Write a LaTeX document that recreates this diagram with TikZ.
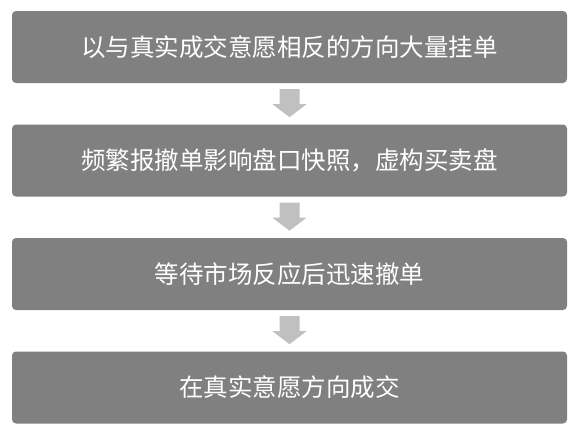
\documentclass[tikz,border=0pt]{standalone}
\usepackage{fontspec}
\setmainfont{Noto Sans CJK SC}
\usetikzlibrary{positioning}
\definecolor{boxgray}{RGB}{128,128,128}
\definecolor{arrowgray}{RGB}{192,192,192}

\begin{document}
\begin{tikzpicture}[x=1pt,y=1pt,font=\fontsize{24.5pt}{28pt}\selectfont,
    stepbox/.style={rectangle,rounded corners=4pt,fill=boxgray,text=white,
      minimum width=555pt,minimum height=72pt,inner sep=0pt}]
  \useasboundingbox (0,0) rectangle (577,-437);
  \node[stepbox] (s1) at (289.5,-47) {以与真实成交意愿相反的方向大量挂单};
  \node[stepbox] (s2) at (289.5,-160.5) {频繁报撤单影响盘口快照，虚构买卖盘};
  \node[stepbox] (s3) at (289.5,-274) {等待市场反应后迅速撤单};
  \node[stepbox] (s4) at (289.5,-387.5) {在真实意愿方向成交};

  % block arrows between the steps
  \foreach \a/\b in {s1/a1,s2/a2,s3/a3}
    \coordinate (\b) at ([yshift=-6pt]\a.south);
  \foreach \b in {a1,a2,a3}
    \fill[arrowgray] ([xshift=-10pt]\b) -- ([xshift=10pt]\b)
      -- ([shift={(10,-15)}]\b) -- ([shift={(17,-15)}]\b)
      -- ([yshift=-28pt]\b) -- ([shift={(-17,-15)}]\b)
      -- ([shift={(-10,-15)}]\b) -- cycle;
\end{tikzpicture}
\end{document}
